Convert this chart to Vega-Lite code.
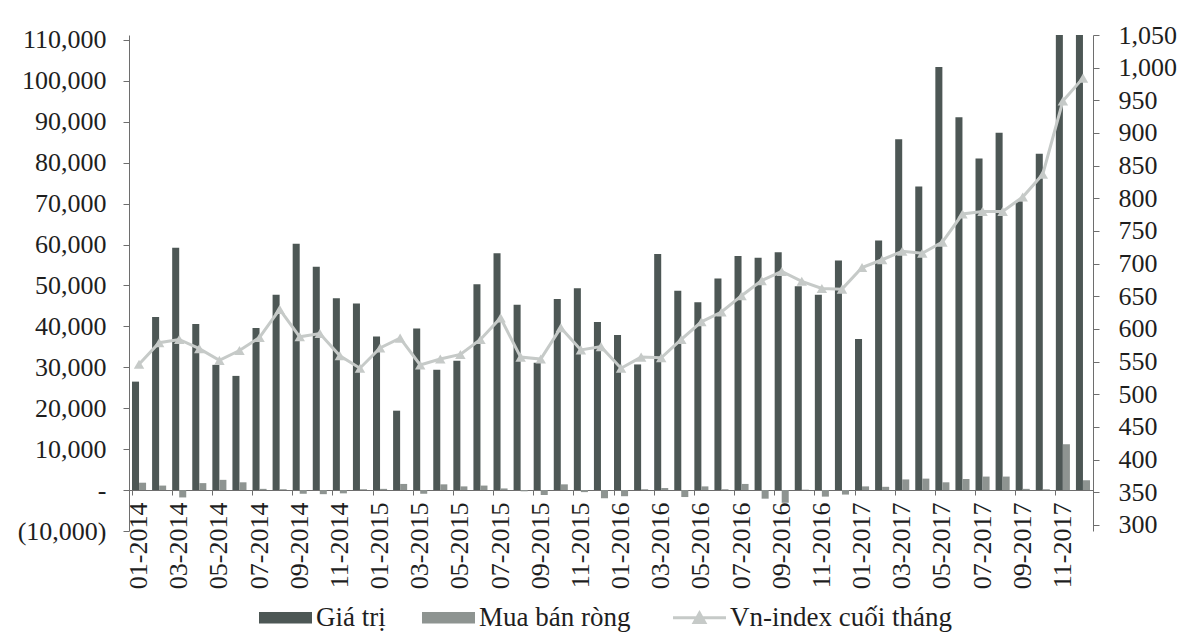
{
  "$schema": "https://vega.github.io/schema/vega-lite/v6.json",
  "width": 964,
  "height": 496,
  "autosize": {"type": "none"},
  "padding": {"left": 129, "top": 35, "right": 86, "bottom": 102},
  "background": "white",
  "config": {
    "view": {"stroke": null},
    "font": "Liberation Serif",
    "axis": {
      "labelFont": "Liberation Serif",
      "labelFontSize": 26,
      "labelColor": "#1e1e1e",
      "domainColor": "#6e6e6e",
      "tickColor": "#6e6e6e",
      "grid": false,
      "title": null
    }
  },
  "datasets": {
    "giao_dich": [
      {"thang": "2014-01-01", "chi_tieu": "Giá trị", "gia_tri": 26500}, {"thang": "2014-01-01", "chi_tieu": "Mua bán ròng", "gia_tri": 1800},
      {"thang": "2014-02-01", "chi_tieu": "Giá trị", "gia_tri": 42300}, {"thang": "2014-02-01", "chi_tieu": "Mua bán ròng", "gia_tri": 1100},
      {"thang": "2014-03-01", "chi_tieu": "Giá trị", "gia_tri": 59200}, {"thang": "2014-03-01", "chi_tieu": "Mua bán ròng", "gia_tri": -1800},
      {"thang": "2014-04-01", "chi_tieu": "Giá trị", "gia_tri": 40600}, {"thang": "2014-04-01", "chi_tieu": "Mua bán ròng", "gia_tri": 1700},
      {"thang": "2014-05-01", "chi_tieu": "Giá trị", "gia_tri": 30600}, {"thang": "2014-05-01", "chi_tieu": "Mua bán ròng", "gia_tri": 2500},
      {"thang": "2014-06-01", "chi_tieu": "Giá trị", "gia_tri": 27900}, {"thang": "2014-06-01", "chi_tieu": "Mua bán ròng", "gia_tri": 1900},
      {"thang": "2014-07-01", "chi_tieu": "Giá trị", "gia_tri": 39600}, {"thang": "2014-07-01", "chi_tieu": "Mua bán ròng", "gia_tri": 300},
      {"thang": "2014-08-01", "chi_tieu": "Giá trị", "gia_tri": 47700}, {"thang": "2014-08-01", "chi_tieu": "Mua bán ròng", "gia_tri": 200},
      {"thang": "2014-09-01", "chi_tieu": "Giá trị", "gia_tri": 60200}, {"thang": "2014-09-01", "chi_tieu": "Mua bán ròng", "gia_tri": -900},
      {"thang": "2014-10-01", "chi_tieu": "Giá trị", "gia_tri": 54600}, {"thang": "2014-10-01", "chi_tieu": "Mua bán ròng", "gia_tri": -1000},
      {"thang": "2014-11-01", "chi_tieu": "Giá trị", "gia_tri": 46900}, {"thang": "2014-11-01", "chi_tieu": "Mua bán ròng", "gia_tri": -800},
      {"thang": "2014-12-01", "chi_tieu": "Giá trị", "gia_tri": 45600}, {"thang": "2014-12-01", "chi_tieu": "Mua bán ròng", "gia_tri": 200},
      {"thang": "2015-01-01", "chi_tieu": "Giá trị", "gia_tri": 37500}, {"thang": "2015-01-01", "chi_tieu": "Mua bán ròng", "gia_tri": 300},
      {"thang": "2015-02-01", "chi_tieu": "Giá trị", "gia_tri": 19400}, {"thang": "2015-02-01", "chi_tieu": "Mua bán ròng", "gia_tri": 1500},
      {"thang": "2015-03-01", "chi_tieu": "Giá trị", "gia_tri": 39500}, {"thang": "2015-03-01", "chi_tieu": "Mua bán ròng", "gia_tri": -900},
      {"thang": "2015-04-01", "chi_tieu": "Giá trị", "gia_tri": 29400}, {"thang": "2015-04-01", "chi_tieu": "Mua bán ròng", "gia_tri": 1400},
      {"thang": "2015-05-01", "chi_tieu": "Giá trị", "gia_tri": 31600}, {"thang": "2015-05-01", "chi_tieu": "Mua bán ròng", "gia_tri": 900},
      {"thang": "2015-06-01", "chi_tieu": "Giá trị", "gia_tri": 50300}, {"thang": "2015-06-01", "chi_tieu": "Mua bán ròng", "gia_tri": 1100},
      {"thang": "2015-07-01", "chi_tieu": "Giá trị", "gia_tri": 57900}, {"thang": "2015-07-01", "chi_tieu": "Mua bán ròng", "gia_tri": 400},
      {"thang": "2015-08-01", "chi_tieu": "Giá trị", "gia_tri": 45300}, {"thang": "2015-08-01", "chi_tieu": "Mua bán ròng", "gia_tri": -300},
      {"thang": "2015-09-01", "chi_tieu": "Giá trị", "gia_tri": 31100}, {"thang": "2015-09-01", "chi_tieu": "Mua bán ròng", "gia_tri": -1200},
      {"thang": "2015-10-01", "chi_tieu": "Giá trị", "gia_tri": 46700}, {"thang": "2015-10-01", "chi_tieu": "Mua bán ròng", "gia_tri": 1400},
      {"thang": "2015-11-01", "chi_tieu": "Giá trị", "gia_tri": 49300}, {"thang": "2015-11-01", "chi_tieu": "Mua bán ròng", "gia_tri": -500},
      {"thang": "2015-12-01", "chi_tieu": "Giá trị", "gia_tri": 41100}, {"thang": "2015-12-01", "chi_tieu": "Mua bán ròng", "gia_tri": -2000},
      {"thang": "2016-01-01", "chi_tieu": "Giá trị", "gia_tri": 37900}, {"thang": "2016-01-01", "chi_tieu": "Mua bán ròng", "gia_tri": -1500},
      {"thang": "2016-02-01", "chi_tieu": "Giá trị", "gia_tri": 30700}, {"thang": "2016-02-01", "chi_tieu": "Mua bán ròng", "gia_tri": 200},
      {"thang": "2016-03-01", "chi_tieu": "Giá trị", "gia_tri": 57700}, {"thang": "2016-03-01", "chi_tieu": "Mua bán ròng", "gia_tri": 500},
      {"thang": "2016-04-01", "chi_tieu": "Giá trị", "gia_tri": 48700}, {"thang": "2016-04-01", "chi_tieu": "Mua bán ròng", "gia_tri": -1700},
      {"thang": "2016-05-01", "chi_tieu": "Giá trị", "gia_tri": 45900}, {"thang": "2016-05-01", "chi_tieu": "Mua bán ròng", "gia_tri": 900},
      {"thang": "2016-06-01", "chi_tieu": "Giá trị", "gia_tri": 51700}, {"thang": "2016-06-01", "chi_tieu": "Mua bán ròng", "gia_tri": 200},
      {"thang": "2016-07-01", "chi_tieu": "Giá trị", "gia_tri": 57200}, {"thang": "2016-07-01", "chi_tieu": "Mua bán ròng", "gia_tri": 1500},
      {"thang": "2016-08-01", "chi_tieu": "Giá trị", "gia_tri": 56800}, {"thang": "2016-08-01", "chi_tieu": "Mua bán ròng", "gia_tri": -2100},
      {"thang": "2016-09-01", "chi_tieu": "Giá trị", "gia_tri": 58100}, {"thang": "2016-09-01", "chi_tieu": "Mua bán ròng", "gia_tri": -3100},
      {"thang": "2016-10-01", "chi_tieu": "Giá trị", "gia_tri": 49800}, {"thang": "2016-10-01", "chi_tieu": "Mua bán ròng", "gia_tri": 100},
      {"thang": "2016-11-01", "chi_tieu": "Giá trị", "gia_tri": 47700}, {"thang": "2016-11-01", "chi_tieu": "Mua bán ròng", "gia_tri": -1600},
      {"thang": "2016-12-01", "chi_tieu": "Giá trị", "gia_tri": 56100}, {"thang": "2016-12-01", "chi_tieu": "Mua bán ròng", "gia_tri": -1100},
      {"thang": "2017-01-01", "chi_tieu": "Giá trị", "gia_tri": 36900}, {"thang": "2017-01-01", "chi_tieu": "Mua bán ròng", "gia_tri": 900},
      {"thang": "2017-02-01", "chi_tieu": "Giá trị", "gia_tri": 61000}, {"thang": "2017-02-01", "chi_tieu": "Mua bán ròng", "gia_tri": 800},
      {"thang": "2017-03-01", "chi_tieu": "Giá trị", "gia_tri": 85700}, {"thang": "2017-03-01", "chi_tieu": "Mua bán ròng", "gia_tri": 2600},
      {"thang": "2017-04-01", "chi_tieu": "Giá trị", "gia_tri": 74200}, {"thang": "2017-04-01", "chi_tieu": "Mua bán ròng", "gia_tri": 2800},
      {"thang": "2017-05-01", "chi_tieu": "Giá trị", "gia_tri": 103400}, {"thang": "2017-05-01", "chi_tieu": "Mua bán ròng", "gia_tri": 1900},
      {"thang": "2017-06-01", "chi_tieu": "Giá trị", "gia_tri": 91100}, {"thang": "2017-06-01", "chi_tieu": "Mua bán ròng", "gia_tri": 2700},
      {"thang": "2017-07-01", "chi_tieu": "Giá trị", "gia_tri": 81000}, {"thang": "2017-07-01", "chi_tieu": "Mua bán ròng", "gia_tri": 3300},
      {"thang": "2017-08-01", "chi_tieu": "Giá trị", "gia_tri": 87300}, {"thang": "2017-08-01", "chi_tieu": "Mua bán ròng", "gia_tri": 3300},
      {"thang": "2017-09-01", "chi_tieu": "Giá trị", "gia_tri": 70600}, {"thang": "2017-09-01", "chi_tieu": "Mua bán ròng", "gia_tri": 300},
      {"thang": "2017-10-01", "chi_tieu": "Giá trị", "gia_tri": 82200}, {"thang": "2017-10-01", "chi_tieu": "Mua bán ròng", "gia_tri": 200},
      {"thang": "2017-11-01", "chi_tieu": "Giá trị", "gia_tri": 111200}, {"thang": "2017-11-01", "chi_tieu": "Mua bán ròng", "gia_tri": 11200},
      {"thang": "2017-12-01", "chi_tieu": "Giá trị", "gia_tri": 111200}, {"thang": "2017-12-01", "chi_tieu": "Mua bán ròng", "gia_tri": 2400}
    ],
    "vnindex": [
      {"thang": "2014-01-01", "vn_index": 546}, {"thang": "2014-02-01", "vn_index": 579}, {"thang": "2014-03-01", "vn_index": 584},
      {"thang": "2014-04-01", "vn_index": 570}, {"thang": "2014-05-01", "vn_index": 552}, {"thang": "2014-06-01", "vn_index": 567},
      {"thang": "2014-07-01", "vn_index": 587}, {"thang": "2014-08-01", "vn_index": 630}, {"thang": "2014-09-01", "vn_index": 588},
      {"thang": "2014-10-01", "vn_index": 593}, {"thang": "2014-11-01", "vn_index": 559}, {"thang": "2014-12-01", "vn_index": 540},
      {"thang": "2015-01-01", "vn_index": 571}, {"thang": "2015-02-01", "vn_index": 586}, {"thang": "2015-03-01", "vn_index": 545},
      {"thang": "2015-04-01", "vn_index": 554}, {"thang": "2015-05-01", "vn_index": 561}, {"thang": "2015-06-01", "vn_index": 584},
      {"thang": "2015-07-01", "vn_index": 617}, {"thang": "2015-08-01", "vn_index": 557}, {"thang": "2015-09-01", "vn_index": 554},
      {"thang": "2015-10-01", "vn_index": 602}, {"thang": "2015-11-01", "vn_index": 568}, {"thang": "2015-12-01", "vn_index": 573},
      {"thang": "2016-01-01", "vn_index": 540}, {"thang": "2016-02-01", "vn_index": 557}, {"thang": "2016-03-01", "vn_index": 556},
      {"thang": "2016-04-01", "vn_index": 584}, {"thang": "2016-05-01", "vn_index": 611}, {"thang": "2016-06-01", "vn_index": 626},
      {"thang": "2016-07-01", "vn_index": 651}, {"thang": "2016-08-01", "vn_index": 674}, {"thang": "2016-09-01", "vn_index": 688},
      {"thang": "2016-10-01", "vn_index": 673}, {"thang": "2016-11-01", "vn_index": 662}, {"thang": "2016-12-01", "vn_index": 661},
      {"thang": "2017-01-01", "vn_index": 694}, {"thang": "2017-02-01", "vn_index": 706}, {"thang": "2017-03-01", "vn_index": 719},
      {"thang": "2017-04-01", "vn_index": 716}, {"thang": "2017-05-01", "vn_index": 733}, {"thang": "2017-06-01", "vn_index": 776},
      {"thang": "2017-07-01", "vn_index": 780}, {"thang": "2017-08-01", "vn_index": 780}, {"thang": "2017-09-01", "vn_index": 802},
      {"thang": "2017-10-01", "vn_index": 837}, {"thang": "2017-11-01", "vn_index": 949}, {"thang": "2017-12-01", "vn_index": 984}
    ]
  },
  "layer": [
    {
      "data": {"name": "giao_dich"},
      "mark": {"type": "bar"},
      "encoding": {
        "x": {
          "field": "thang",
          "timeUnit": "utcyearmonth",
          "type": "ordinal",
          "scale": {"paddingInner": 0.3, "paddingOuter": 0.15},
          "axis": {
            "orient": "bottom",
            "offset": -41,
            "ticks": false,
            "labelAngle": -90,
            "labelPadding": 12,
            "labelOverlap": false,
            "labelExpr": "utcmonth(datum.value) % 2 == 0 ? utcFormat(datum.value, '%m-%Y') : ''",
            "title": null
          }
        },
        "xOffset": {
          "field": "chi_tieu",
          "type": "nominal",
          "sort": ["Giá trị", "Mua bán ròng"],
          "scale": {"paddingInner": 0, "paddingOuter": 0}
        },
        "y": {
          "field": "gia_tri",
          "type": "quantitative",
          "scale": {"domain": [-10000, 111200], "nice": false, "zero": false},
          "axis": {
            "orient": "left",
            "values": [-10000, 0, 10000, 20000, 30000, 40000, 50000, 60000, 70000, 80000, 90000, 100000, 110000],
            "labelExpr": "datum.value == 0 ? '-\u00a0\u00a0\u00a0' : (datum.value < 0 ? '(' + format(-datum.value, ',') + ')' : format(datum.value, ',') + '\u00a0')",
            "tickSize": 6,
            "labelPadding": 17,
            "title": null
          }
        },
        "color": {
          "field": "chi_tieu",
          "type": "nominal",
          "scale": {
            "domain": ["Giá trị", "Mua bán ròng", "Vn-index cuối tháng"],
            "range": ["#4d5755", "#8e9491", "#c6cac8"]
          },
          "legend": {
            "orient": "none",
            "legendX": 143,
            "legendY": 569,
            "direction": "horizontal",
            "title": null,
            "labelFont": "Liberation Serif",
            "labelFontSize": 27,
            "labelColor": "#1e1e1e",
            "labelLimit": 400,
            "symbolSize": 2809,
            "symbolType": "M-1,-0.22H1V0.22H-1Z",
            "labelOffset": 17,
            "columnPadding": 36,
            "encode": {
              "symbols": {
                "update": {
                  "shape": {"signal": "datum.value == 'Vn-index cuối tháng' ? 'M-1,0H1M-0.2,0.18L0,-0.18L0.2,0.18Z' : 'M-1,-0.22H1V0.22H-1Z'"},
                  "fill": {"scale": "color", "field": "value"},
                  "stroke": {"scale": "color", "field": "value"},
                  "strokeWidth": {"signal": "datum.value == 'Vn-index cuối tháng' ? 3 : 0"},
                  "opacity": {"value": 1}
                }
              }
            }
          }
        }
      }
    },
    {
      "data": {"name": "vnindex"},
      "encoding": {
        "x": {
          "field": "thang",
          "timeUnit": "utcyearmonth",
          "type": "ordinal",
          "axis": {
            "orient": "bottom",
            "offset": -41,
            "labels": false,
            "domain": false,
            "ticks": true,
            "tickSize": 5,
            "bandPosition": 0,
            "tickOpacity": {"condition": {"test": "utcmonth(datum.value) % 2 == 0", "value": 1}, "value": 0},
            "title": null
          }
        },
        "y": {
          "field": "vn_index",
          "type": "quantitative",
          "scale": {"domain": [290.8, 1050], "nice": false, "zero": false},
          "axis": {
            "orient": "right",
            "values": [300, 350, 400, 450, 500, 550, 600, 650, 700, 750, 800, 850, 900, 950, 1000, 1050],
            "format": ",.0f",
            "tickSize": 6,
            "labelPadding": 19,
            "title": null
          }
        },
        "color": {"datum": "Vn-index cuối tháng"}
      },
      "layer": [
        {"mark": {"type": "line", "strokeWidth": 3}},
        {"mark": {"type": "point", "shape": "triangle-up", "filled": true, "size": 110, "opacity": 1}}
      ]
    }
  ],
  "resolve": {"scale": {"y": "independent"}, "axis": {"x": "independent"}}
}
